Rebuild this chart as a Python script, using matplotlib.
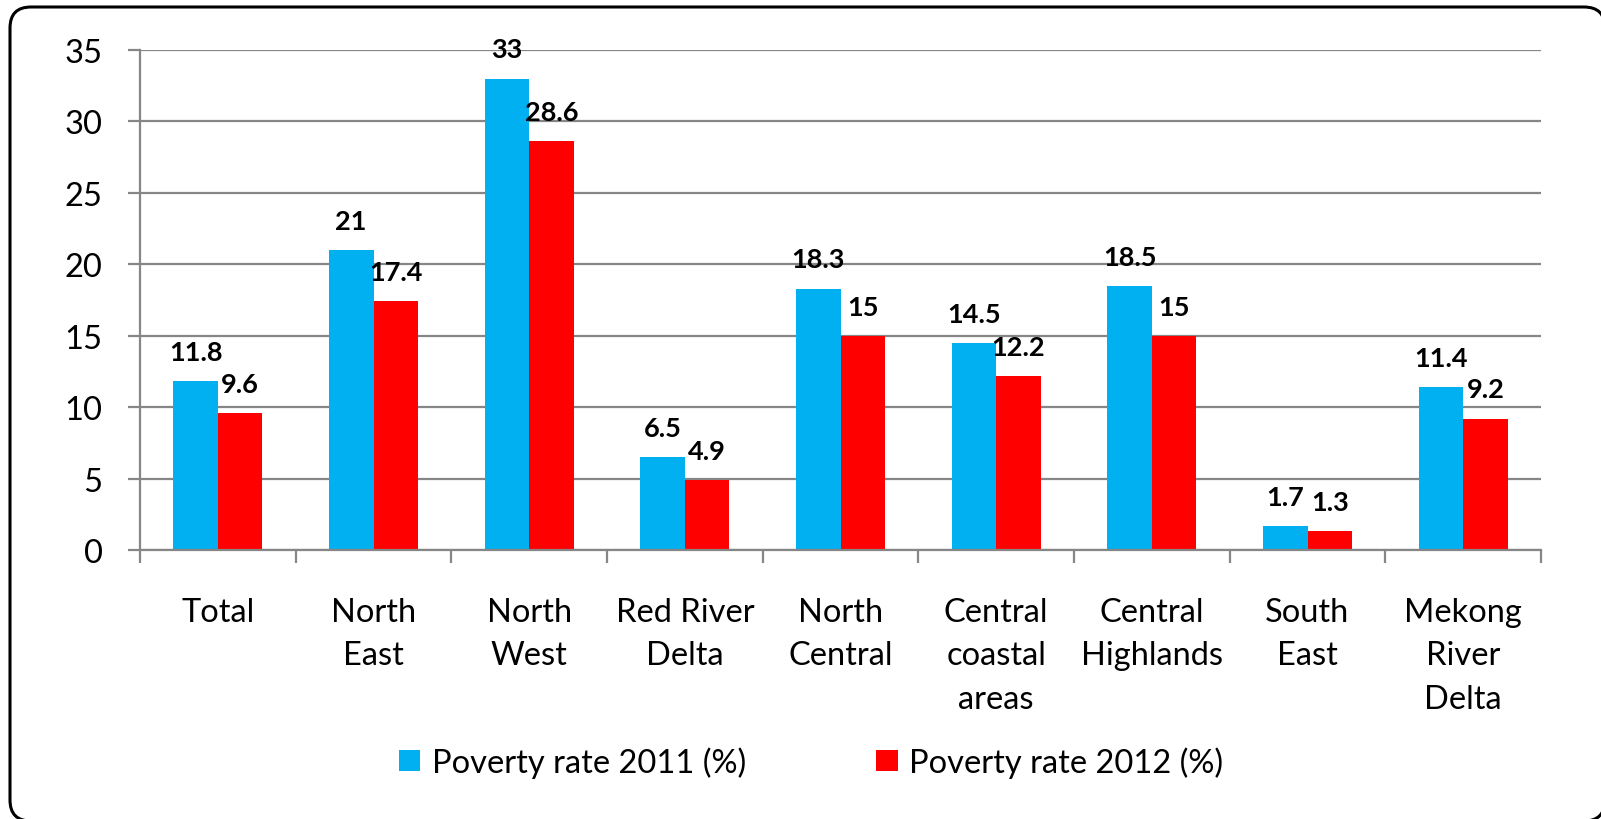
import numpy as np
import matplotlib.pyplot as plt
import matplotlib.patches as mpatches

plt.rcParams['font.family'] = ['Lato', 'DejaVu Sans']

# Poverty rate by region, 2011 vs 2012
regions = ['Total', 'North\nEast', 'North\nWest', 'Red River\nDelta', 'North\nCentral',
           'Central\ncoastal\nareas', 'Central\nHighlands', 'South\nEast', 'Mekong\nRiver\nDelta']
rate_2011 = [11.8, 21, 33, 6.5, 18.3, 14.5, 18.5, 1.7, 11.4]
rate_2012 = [9.6, 17.4, 28.6, 4.9, 15, 12.2, 15, 1.3, 9.2]

blue = '#00B0F0'
red = '#FF0000'
grey = '#868686'

fig = plt.figure(figsize=(16.01, 8.2), dpi=100)
ax = fig.add_axes([140 / 1601, 1 - 551 / 820, 1401 / 1601, 500 / 820])

x = np.arange(len(regions))
w = 0.286
b1 = ax.bar(x - w / 2, rate_2011, w, color=blue, label='Poverty rate 2011 (%)')
b2 = ax.bar(x + w / 2, rate_2012, w, color=red, label='Poverty rate 2012 (%)')

for bars, vals in ((b1, rate_2011), (b2, rate_2012)):
    for rect, v in zip(bars, vals):
        ax.annotate(f'{v:g}', (rect.get_x() + rect.get_width() / 2, v),
                    xytext=(0, 21), textcoords='offset points',
                    ha='center', va='center', fontsize=19.5, fontweight='bold')

ax.set_xlim(-0.5, len(regions) - 0.5)
ax.set_ylim(0, 35)
ax.set_yticks(np.arange(0, 36, 5))
ax.yaxis.grid(True, color=grey, linewidth=1.6)
ax.set_axisbelow(True)

# category boundaries get the tick marks, centres get the labels
ax.set_xticks(np.arange(len(regions) + 1) - 0.5)
ax.set_xticklabels([])
ax.set_xticks(x, minor=True)
ax.set_xticklabels(regions, minor=True, fontsize=23.5, linespacing=1.55, va='top')
ax.tick_params(axis='x', which='minor', length=0, pad=34)
ax.tick_params(axis='x', which='major', length=9, width=1.6, color=grey)
ax.tick_params(axis='y', length=9, width=1.6, color=grey, labelsize=23.5, pad=18)

for s in ('top', 'right'):
    ax.spines[s].set_visible(False)
for s in ('left', 'bottom'):
    ax.spines[s].set_color(grey)
    ax.spines[s].set_linewidth(1.6)

fig.legend(handles=[b1, b2], loc='center', bbox_to_anchor=(811 / 1601, 1 - 763 / 820),
           ncol=2, frameon=False, fontsize=23.5, handlelength=0.66, handleheight=0.63,
           handletextpad=0.34, columnspacing=4.0)

# rounded frame around the whole chart, running off the right and bottom edges;
# a white face keeps Agg from clipping the outline onto the canvas border
x0, y_top = 10, 8
x1, y_bot = 1605, 822
frame = mpatches.FancyBboxPatch((x0 / 100, (820 - y_bot) / 100), (x1 - x0) / 100, (y_bot - y_top) / 100,
                                boxstyle='round,pad=0,rounding_size=0.21',
                                transform=fig.dpi_scale_trans, facecolor='white',
                                edgecolor='black', linewidth=2.2, zorder=-1)
fig.patches.append(frame)

fig.savefig('out.png', dpi=100)
